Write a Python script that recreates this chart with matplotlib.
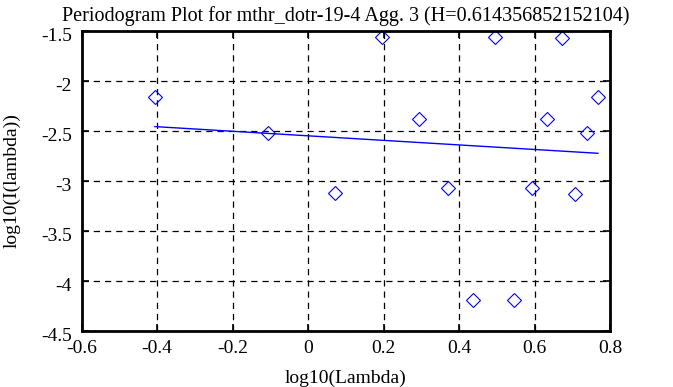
import matplotlib.pyplot as plt
import matplotlib.transforms as mtransforms

# periodogram points
log_lambda = [-0.406, -0.105, 0.071, 0.195, 0.294, 0.371, 0.438, 0.496,
              0.546, 0.593, 0.634, 0.672, 0.707, 0.739, 0.768]
log_i = [-2.16, -2.526, -3.126, -1.566, -2.383, -3.073, -4.193, -1.566,
         -4.193, -3.073, -2.383, -1.573, -3.133, -2.523, -2.163]

# least squares fit line endpoints
fit_x = [-0.406, 0.768]
fit_y = [-2.459, -2.726]

title = "Periodogram Plot for mthr_dotr-19-4 Agg. 3 (H=0.614356852152104)"

plt.rcParams["font.family"] = ["Liberation Serif", "DejaVu Serif"]

fig = plt.figure(figsize=(6.73, 3.87), dpi=100)
ax = fig.add_axes([0.1214, 0.1455, 0.785, 0.7752])

ax.plot(log_lambda, log_i, linestyle="none", marker="D", markersize=7.5,
        markerfacecolor="none", markeredgecolor="blue", markeredgewidth=0.8)
ax.plot(fit_x, fit_y, color="blue", linewidth=1.0)

ax.set_xlim(-0.6, 0.8)
ax.set_ylim(-4.5, -1.5)
ax.set_xticks([-0.6, -0.4, -0.2, 0, 0.2, 0.4, 0.6, 0.8])
ax.set_xticklabels(["-0.6", "-0.4", "-0.2", "0", "0.2", "0.4", "0.6", "0.8"])
ax.set_yticks([-4.5, -4, -3.5, -3, -2.5, -2, -1.5])
ax.set_yticklabels(["-4.5", "-4", "-3.5", "-3", "-2.5", "-2", "-1.5"])

ax.grid(True, color="black", linestyle=(0, (5, 4)), linewidth=0.9)
ax.tick_params(direction="in", length=5, width=1.2, top=True, right=True,
               labelsize=14)
ax.tick_params(axis="x", pad=7)
ax.tick_params(axis="y", pad=7)
for s in ax.spines.values():
    s.set_linewidth(2)

# y tick labels sit a little below their ticks in the original
shift = mtransforms.ScaledTranslation(0, -3 / 72, fig.dpi_scale_trans)
for lbl in ax.get_yticklabels():
    lbl.set_transform(lbl.get_transform() + shift)

ax.set_title(title, fontsize=14.5, pad=7)
ax.set_xlabel("log10(Lambda)", fontsize=14, labelpad=9)
ax.set_ylabel("log10(I(lambda))", fontsize=14, labelpad=15)

fig.savefig("out.png", dpi=100)
